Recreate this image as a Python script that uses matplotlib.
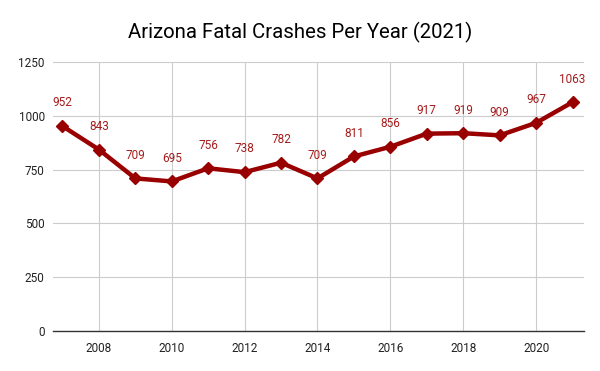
import matplotlib
matplotlib.use("Agg")
import matplotlib.pyplot as plt

years = [2007, 2008, 2009, 2010, 2011, 2012, 2013, 2014, 2015, 2016, 2017, 2018, 2019, 2020, 2021]
crashes = [952, 843, 709, 695, 756, 738, 782, 709, 811, 856, 917, 919, 909, 967, 1063]
xticks = [2008, 2010, 2012, 2014, 2016, 2018, 2020]
yticks = [0, 250, 500, 750, 1000, 1250]

plt.rcParams['font.family'] = ['Roboto', 'DejaVu Sans']

fig = plt.figure(figsize=(6, 3.71), dpi=100)
ax = fig.add_axes([0.0883, 0.1078, 0.8847, 0.7252])

line_color = '#990000'
label_color = '#a61c1c'

ax.plot(years, crashes, color=line_color, lw=3.2, marker='D', ms=6.5,
        markerfacecolor=line_color, markeredgecolor=line_color, zorder=3,
        solid_joinstyle='round')

for x, y in zip(years, crashes):
    ax.annotate(str(y), (x, y), xytext=(0, 12), textcoords='offset points',
                ha='center', va='bottom', color=label_color, fontsize=8.5, zorder=4)

ax.set_xlim(2006.74, 2021.31)
ax.set_ylim(0, 1250)
ax.set_xticks(xticks)
ax.set_yticks(yticks)
ax.grid(True, color='#cccccc', lw=0.8)
ax.set_axisbelow(True)
for s in ['top', 'right', 'left']:
    ax.spines[s].set_visible(False)
ax.spines['bottom'].set_color('#333333')
ax.spines['bottom'].set_linewidth(1)
ax.tick_params(axis='both', length=0, labelsize=8.5, colors='#222222', pad=8)
ax.tick_params(axis='y', pad=6)

fig.text(0.5, 0.912, 'Arizona Fatal Crashes Per Year (2021)', ha='center', va='center',
         fontsize=14.7, color='#000000')

fig.savefig('out.png', dpi=100, facecolor='white')
